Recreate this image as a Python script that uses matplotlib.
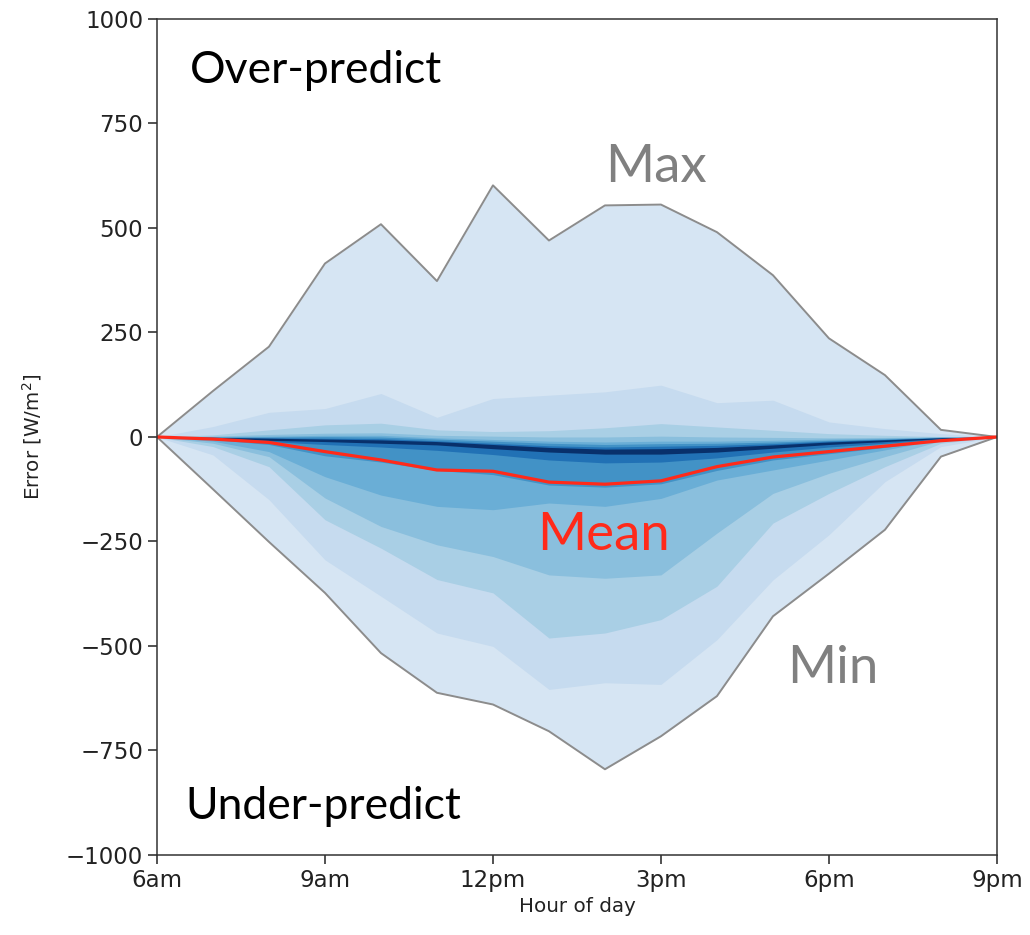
import numpy as np
import matplotlib
matplotlib.use("Agg")
import matplotlib.pyplot as plt

# hour of day, 6am .. 9pm
hours = list(range(6, 22))
tick_hours = [6, 9, 12, 15, 18, 21]
tick_labels = ["6am", "9am", "12pm", "3pm", "6pm", "9pm"]

# error envelope (W/m^2)
err_max = [0, 110, 216, 415, 509, 373, 602, 470, 554, 556, 490, 387, 236, 148, 17, 0]
err_min = [0, -125, -251, -373, -517, -612, -640, -704, -795, -716, -620, -429, -327, -222, -47, 0]
err_mean = [0, -5, -13, -35, -55, -79, -82, -108, -113, -105, -71, -48, -35, -22, -9, 0]

# inner percentile bands, upper edges (outer -> inner)
upper = [
    [0, 25, 59, 68, 104, 47, 92, 100, 108, 124, 82, 88, 36, 20, 8, 0],
    [0, 5, 17, 29, 33, 17, 13, 15, 22, 32, 24, 16, 8, 4, 1, 0],
    [0, 2, 6, 9, 10, 4, 2, 0, 0, 2, 0, -1, -2, -1, 0, 0],
    [0, 1, 2, 4, 4, -2, -6, -10, -12, -10, -10, -8, -5, -3, 0, 0],
    [0, 0, 0, 1, 0, -5, -10, -15, -18, -16, -15, -12, -8, -5, -1, 0],
    [0, -1, -2, -3, -4, -9, -15, -21, -24, -22, -20, -16, -10, -6, -2, 0],
    [0, -1, -3, -5, -7, -11, -18, -25, -29, -28, -25, -19, -12, -7, -2, 0],
]
# lower edges (outer -> inner)
lower = [
    [0, -43, -150, -294, -381, -469, -501, -604, -588, -592, -485, -342, -234, -107, -23, 0],
    [0, -23, -71, -198, -266, -341, -373, -481, -469, -437, -357, -206, -135, -71, -15, 0],
    [0, -15, -47, -146, -214, -258, -286, -330, -338, -330, -230, -135, -87, -47, -9, 0],
    [0, -10, -35, -95, -139, -166, -174, -158, -166, -147, -103, -79, -55, -31, -6, 0],
    [0, -6, -18, -45, -60, -80, -90, -115, -120, -112, -80, -55, -40, -25, -7, 0],
    [0, -4, -11, -18, -24, -32, -42, -55, -62, -60, -50, -36, -24, -15, -5, 0],
    [0, -3, -8, -11, -15, -19, -28, -36, -41, -41, -36, -27, -18, -11, -4, 0],
]
band_colors = ["#c6dbef", "#a9cfe5", "#8abfdd", "#6aaed6", "#4292c6", "#2171b5", "#08306b"]

fig = plt.figure(figsize=(10.3, 9.35), dpi=100)
ax = fig.add_axes([0.1524, 0.0856, 0.8155, 0.8941])

ax.fill_between(hours, err_min, err_max, color="#d6e5f3", lw=0)
for lo, hi, c in zip(lower, upper, band_colors):
    ax.fill_between(hours, lo, hi, color=c, lw=0)

ax.plot(hours, err_max, color="#8c8c8c", lw=1.4)
ax.plot(hours, err_min, color="#8c8c8c", lw=1.4)
ax.plot(hours, err_mean, color="#ff2a1a", lw=2.3)

ax.set_xlim(6, 21)
ax.set_ylim(-1000, 1000)
ax.set_xticks(tick_hours)
ax.set_xticklabels(tick_labels)
ax.set_yticks(np.arange(-1000, 1001, 250))
ax.tick_params(labelsize=16.5, length=6.5, width=1.1, colors="#222222")
for s in ax.spines.values():
    s.set_linewidth(1.1)
    s.set_color("#333333")

ax.set_xlabel("Hour of day", fontsize=14.3, color="#222222")
ax.set_ylabel("Error [W/m$^2$]", fontsize=14.3, color="#222222")
ax.yaxis.set_label_coords(-0.135, 0.5)

ax.text(6.59, 848, "Over-predict", fontsize=32, family="Lato", color="black", va="baseline")
ax.text(6.50, -915, "Under-predict", fontsize=32, family="Lato", color="black", va="baseline")
ax.text(14.0, 609, "Max", fontsize=38, family="Lato", color="#808080", va="baseline")
ax.text(17.25, -588, "Min", fontsize=38, family="Lato", color="#808080", va="baseline")
ax.text(12.79, -270, "Mean", fontsize=38, family="Lato", color="#ff2a1a", va="baseline")

fig.savefig("out.png", dpi=100)
